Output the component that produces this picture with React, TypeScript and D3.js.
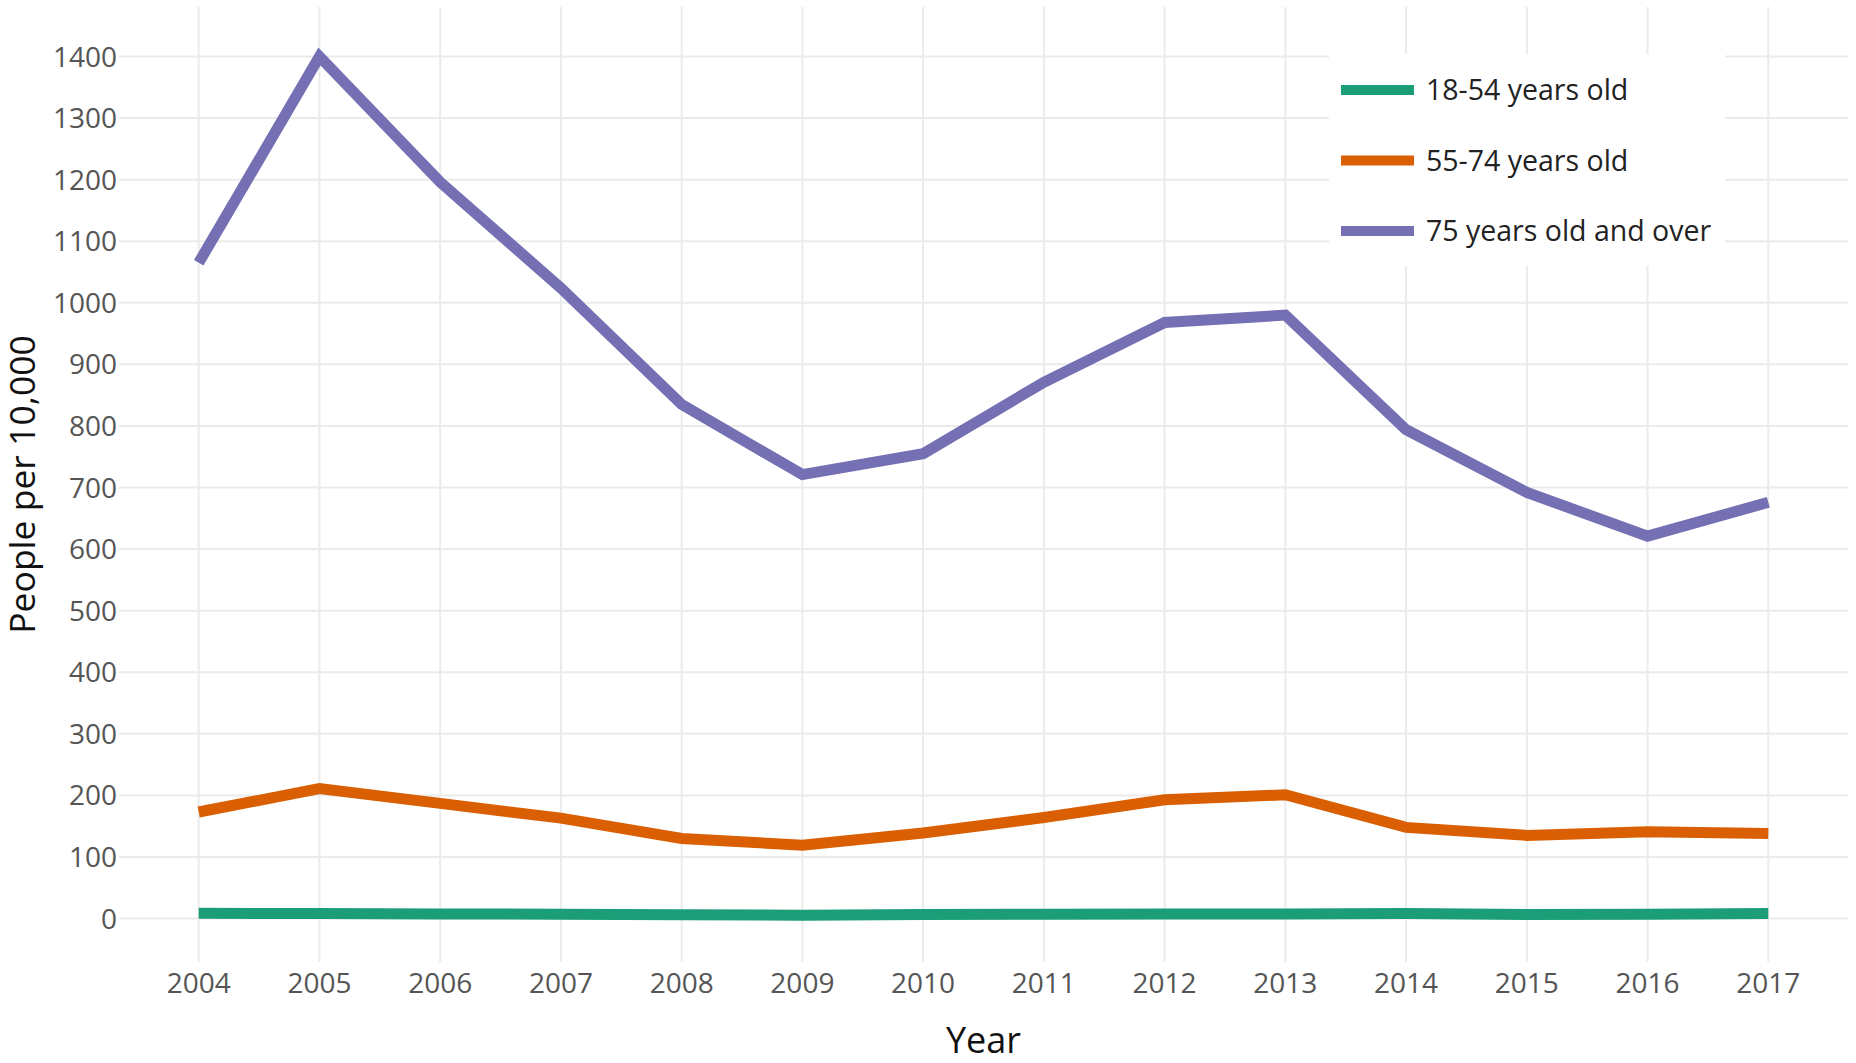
import { useEffect, useRef } from "react"
import * as d3 from "d3"

const years = [2004, 2005, 2006, 2007, 2008, 2009, 2010, 2011, 2012, 2013, 2014, 2015, 2016, 2017]
const young = [8.5, 8, 7.5, 7, 6, 5.5, 6.5, 7, 7.5, 7.5, 8, 6.5, 7, 8]
const middle = [173, 211, 187, 163, 130, 119, 139, 164, 193, 201, 148, 135, 141, 138]
const elder = [1065, 1400, 1196, 1024, 835, 721, 755, 871, 968, 980, 794, 692, 621, 676]
const seriesNames = ["18-54 years old", "55-74 years old", "75 years old and over"]
const seriesColors = ["#1b9e77", "#d95f02", "#7570b3"]
const yTicks = [0, 100, 200, 300, 400, 500, 600, 700, 800, 900, 1000, 1100, 1200, 1300, 1400]

export default function App() {
  const svgRef = useRef<SVGSVGElement>(null)
  const width = 1856
  const height = 1063

  useEffect(() => {
    if (!svgRef.current) return
    const svg = d3.select(svgRef.current)
    svg.selectAll("*").remove()

    const plot = { left: 119, right: 1848, top: 7, bottom: 962 }
    const font = "'Open Sans', sans-serif"

    const x = d3.scaleLinear().domain([2003.34, 2017.66]).range([plot.left, plot.right])
    const y = d3.scaleLinear().domain([-70.6, 1480.4]).range([plot.bottom, plot.top])

    svg.append("rect").attr("width", width).attr("height", height).attr("fill", "#fff")

    // grid
    svg.append("g")
      .selectAll("line")
      .data(years)
      .join("line")
      .attr("x1", d => x(d))
      .attr("x2", d => x(d))
      .attr("y1", plot.top)
      .attr("y2", plot.bottom)
      .attr("stroke", "#ebebeb")
      .attr("stroke-width", 2)

    svg.append("g")
      .selectAll("line")
      .data(yTicks)
      .join("line")
      .attr("x1", plot.left)
      .attr("x2", plot.right)
      .attr("y1", d => y(d))
      .attr("y2", d => y(d))
      .attr("stroke", "#ebebeb")
      .attr("stroke-width", 2)

    // tick labels
    svg.append("g")
      .selectAll("text")
      .data(yTicks)
      .join("text")
      .attr("x", 117)
      .attr("y", d => y(d))
      .attr("dy", "0.36em")
      .attr("text-anchor", "end")
      .style("font-family", font)
      .style("font-size", "28px")
      .style("fill", "#555")
      .text(d => d)

    svg.append("g")
      .selectAll("text")
      .data(years)
      .join("text")
      .attr("x", d => x(d))
      .attr("y", 993)
      .attr("text-anchor", "middle")
      .style("font-family", font)
      .style("font-size", "28px")
      .style("fill", "#555")
      .text(d => d)

    // axis titles
    svg.append("text")
      .attr("x", (plot.left + plot.right) / 2)
      .attr("y", 1053)
      .attr("text-anchor", "middle")
      .style("font-family", font)
      .style("font-size", "36px")
      .style("fill", "#111")
      .text("Year")

    svg.append("text")
      .attr("transform", `translate(35,${(plot.top + plot.bottom) / 2}) rotate(-90)`)
      .attr("text-anchor", "middle")
      .style("font-family", font)
      .style("font-size", "35.5px")
      .style("fill", "#111")
      .text("People per 10,000")

    // lines
    const allSeries = [young, middle, elder]
    const line = d3
      .line<number>()
      .x((_, i) => x(years[i]))
      .y(d => y(d))

    allSeries.forEach((s, i) => {
      svg.append("path")
        .datum(s)
        .attr("fill", "none")
        .attr("stroke", seriesColors[i])
        .attr("stroke-width", 11)
        .attr("d", line)
    })

    // legend
    const legend = svg.append("g")
    legend.append("rect")
      .attr("x", 1329)
      .attr("y", 54)
      .attr("width", 396)
      .attr("height", 212)
      .attr("fill", "#fff")

    seriesNames.forEach((name, i) => {
      const cy = 90 + i * 70.5
      legend.append("line")
        .attr("x1", 1341)
        .attr("x2", 1414)
        .attr("y1", cy)
        .attr("y2", cy)
        .attr("stroke", seriesColors[i])
        .attr("stroke-width", 10)
      legend.append("text")
        .attr("x", 1426)
        .attr("y", cy + 10)
        .style("font-family", font)
        .style("font-size", "28.5px")
        .style("fill", "#222")
        .text(name)
    })
  }, [])

  return (
    <svg
      ref={svgRef}
      width={width}
      height={height}
      style={{ position: "absolute", left: 0, top: 0 }}
    />
  )
}
